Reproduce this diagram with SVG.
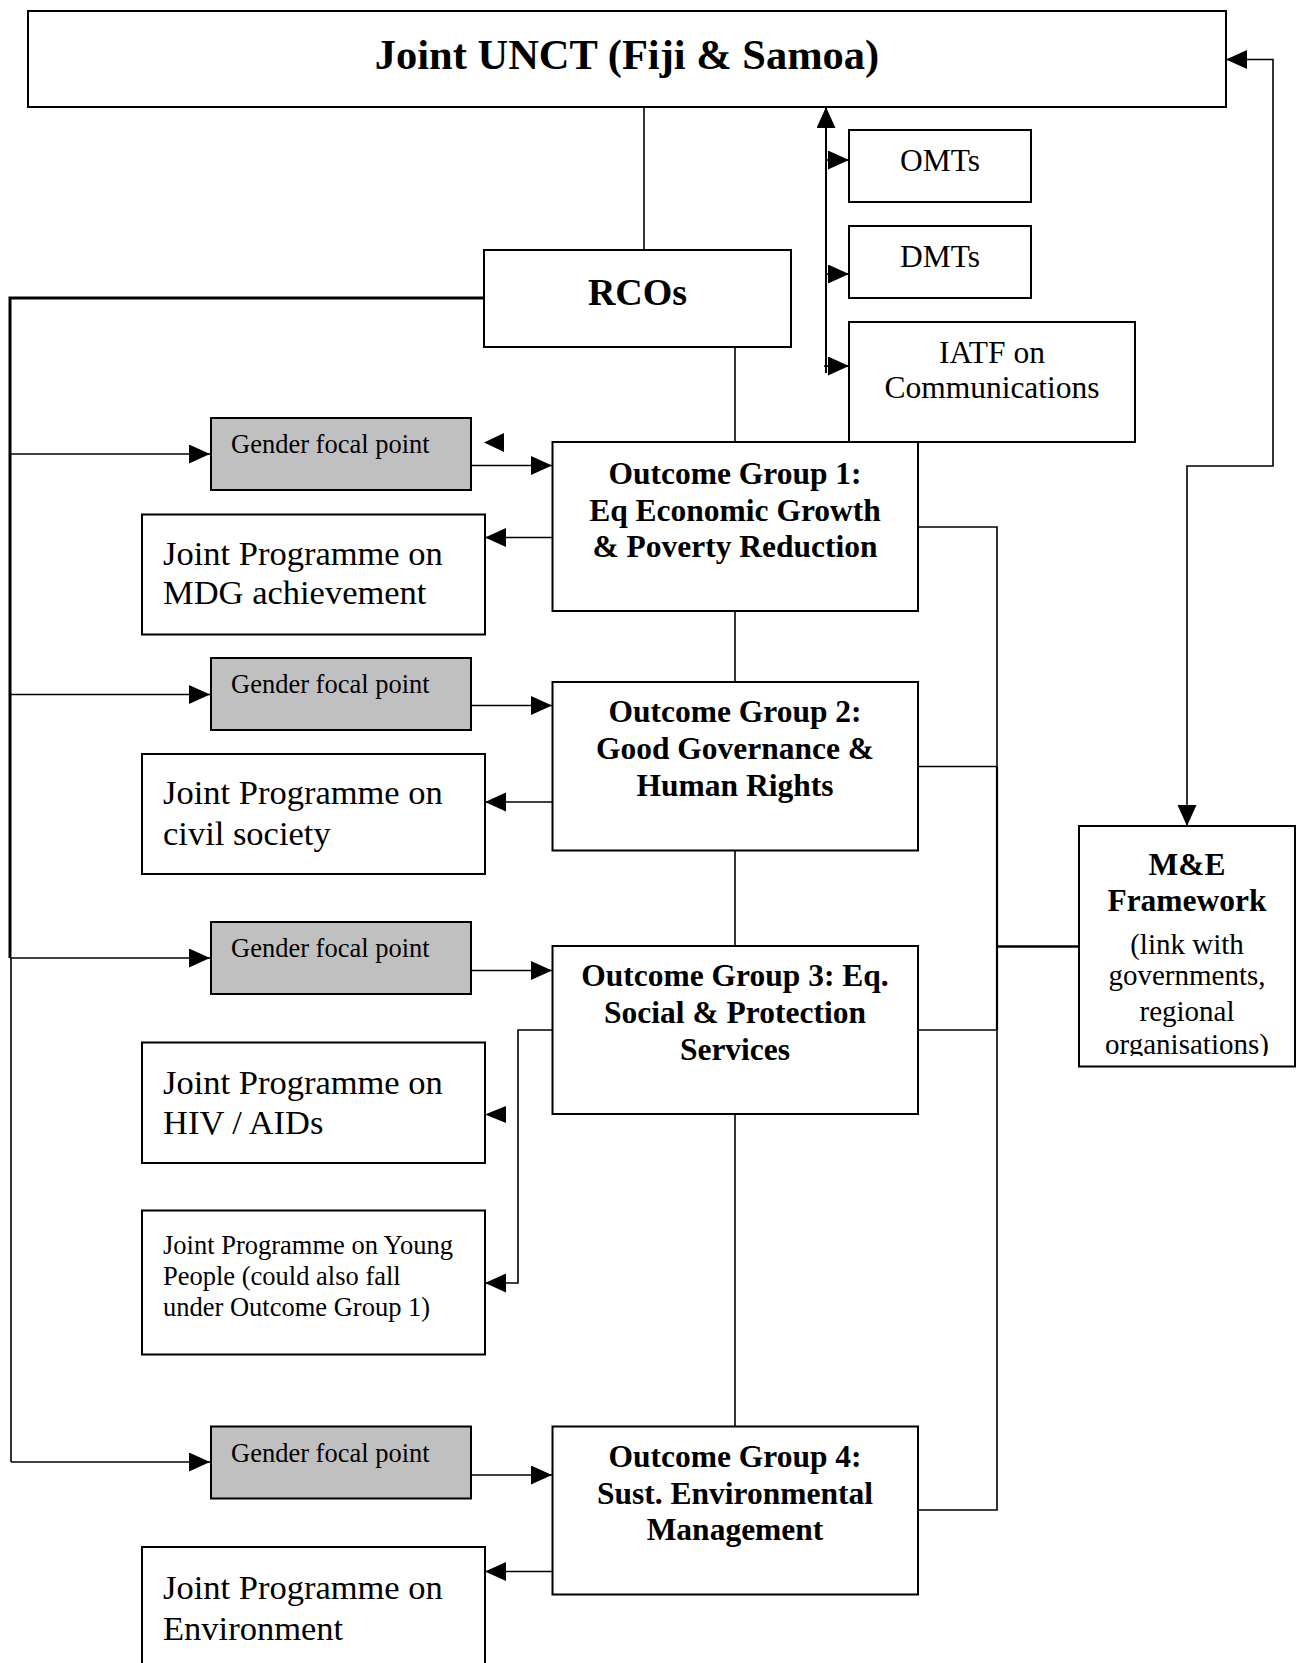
<svg xmlns="http://www.w3.org/2000/svg" width="1297" height="1663" viewBox="0 0 1297 1663">
<style>
.box{fill:#fff;stroke:#000;stroke-width:2}
.gray{fill:#c0c0c0;stroke:#000;stroke-width:2}
.ln{fill:none;stroke:#000;stroke-width:1.6}
.thick{fill:none;stroke:#000;stroke-width:3}
.t{font-family:"Liberation Serif","Times New Roman",serif;fill:#000}
.b{font-weight:bold}
.c{text-anchor:middle}
.og{font-size:31.5px}
.jp{font-size:34.5px}
.gf{font-size:26.5px}
</style>
<defs>
<marker id="ah" markerUnits="userSpaceOnUse" markerWidth="22" markerHeight="20" refX="21" refY="9.5" orient="auto-start-reverse">
<path d="M0,0 L21,9.5 L0,19 z" fill="#000"/>
</marker>
<clipPath id="meclip"><rect x="1079" y="826" width="216" height="230"/></clipPath>
</defs>

<g id="connectors">
<path class="ln" d="M644,107 V250"/>
<path class="ln" d="M735,347 V442"/>
<path class="ln" d="M735,611 V682"/>
<path class="ln" d="M735,850 V946"/>
<path class="ln" d="M735,1114 V1426"/>
<path class="thick" d="M484,298 H10 V958"/>
<path class="ln" d="M11,958 V1462"/>
<path class="ln" d="M10,454 H210" marker-end="url(#ah)"/>
<path class="ln" d="M10,694.5 H210" marker-end="url(#ah)"/>
<path class="ln" d="M10,958 H210" marker-end="url(#ah)"/>
<path class="ln" d="M11,1462 H210" marker-end="url(#ah)"/>
<path class="ln" d="M461,465.5 H552" marker-end="url(#ah)"/>
<path class="ln" d="M461,705.5 H552" marker-end="url(#ah)"/>
<path class="ln" d="M462,970.5 H552" marker-end="url(#ah)"/>
<path class="ln" d="M462,1475 H552" marker-end="url(#ah)"/>
<path class="ln" d="M552,537.5 H485" marker-end="url(#ah)"/>
<path class="ln" d="M552,802 H485" marker-end="url(#ah)"/>
<path class="ln" d="M552,1571.5 H485" marker-end="url(#ah)"/>
<path class="ln" d="M552,1030 H518 V1283 H485" marker-end="url(#ah)"/>
<polygon points="484,442.5 504,433 504,452" fill="#000"/>
<polygon points="485,1114.5 506,1106 506,1123" fill="#000"/>
<path class="ln" d="M918,527 H997 V1510 H918"/>
<path class="ln" d="M918,766.5 H997"/>
<path class="ln" d="M918,1030 H997"/>
<path class="ln" d="M997,766.5 V1030" style="stroke-width:2.2"/>
<path class="ln" d="M997,946.5 H1079" style="stroke-width:2.4"/>
<path class="ln" d="M826,373 V107" style="stroke-width:2" marker-end="url(#ah)"/>
<path class="ln" d="M826,160 H849" marker-end="url(#ah)"/>
<path class="ln" d="M826,274 H849" marker-end="url(#ah)"/>
<path class="ln" d="M824,366 H849" marker-end="url(#ah)"/>
<path class="ln" d="M1226,59.5 H1273 V466 H1187 V826" marker-start="url(#ah)" marker-end="url(#ah)"/>
</g>

<g id="unct">
<rect class="box" x="28" y="11" width="1198" height="96"/>
<text class="t b c" x="627" y="68.5" font-size="42.5">Joint UNCT (Fiji &amp; Samoa)</text>
</g>
<g id="rcos">
<rect class="box" x="484" y="250" width="307" height="97"/>
<text class="t b c" x="637.5" y="305" font-size="38">RCOs</text>
</g>
<g id="omts">
<rect class="box" x="849" y="130" width="182" height="72"/>
<text class="t c" x="940" y="171" font-size="31.5">OMTs</text>
</g>
<g id="dmts">
<rect class="box" x="849" y="226" width="182" height="72"/>
<text class="t c" x="940" y="267" font-size="31.5">DMTs</text>
</g>
<g id="iatf">
<rect class="box" x="849" y="322" width="286" height="120"/>
<text class="t c" x="992" y="363" font-size="31.5">IATF on</text>
<text class="t c" x="992" y="398" font-size="31.5">Communications</text>
</g>

<g id="gfp1">
<rect class="gray" x="211" y="418" width="260" height="72"/>
<text class="t gf" x="231" y="453">Gender focal point</text>
</g>
<g id="gfp2">
<rect class="gray" x="211" y="658" width="260" height="72"/>
<text class="t gf" x="231" y="693">Gender focal point</text>
</g>
<g id="gfp3">
<rect class="gray" x="211" y="922" width="260" height="72"/>
<text class="t gf" x="231" y="957">Gender focal point</text>
</g>
<g id="gfp4">
<rect class="gray" x="211" y="1426.5" width="260" height="72"/>
<text class="t gf" x="231" y="1461.5">Gender focal point</text>
</g>

<g id="og1">
<rect class="box" x="552.5" y="442" width="365.5" height="169"/>
<text class="t b c og" x="735" y="483.5">Outcome Group 1:</text>
<text class="t b c og" x="735" y="520.5">Eq Economic Growth</text>
<text class="t b c og" x="735" y="557">&amp; Poverty Reduction</text>
</g>
<g id="og2">
<rect class="box" x="552.5" y="682" width="365.5" height="168.5"/>
<text class="t b c og" x="735" y="722">Outcome Group 2:</text>
<text class="t b c og" x="735" y="759">Good Governance &amp;</text>
<text class="t b c og" x="735" y="796">Human Rights</text>
</g>
<g id="og3">
<rect class="box" x="552.5" y="946" width="365.5" height="168"/>
<text class="t b c og" x="735" y="986">Outcome Group 3: Eq.</text>
<text class="t b c og" x="735" y="1023">Social &amp; Protection</text>
<text class="t b c og" x="735" y="1060">Services</text>
</g>
<g id="og4">
<rect class="box" x="552.5" y="1426.5" width="365.5" height="168"/>
<text class="t b c og" x="735" y="1467">Outcome Group 4:</text>
<text class="t b c og" x="735" y="1503.5">Sust. Environmental</text>
<text class="t b c og" x="735" y="1540">Management</text>
</g>

<g id="jp-mdg">
<rect class="box" x="142" y="514.5" width="343" height="120"/>
<text class="t jp" x="163" y="565">Joint Programme on</text>
<text class="t jp" x="163" y="604">MDG achievement</text>
</g>
<g id="jp-civil">
<rect class="box" x="142" y="754" width="343" height="120"/>
<text class="t jp" x="163" y="804">Joint Programme on</text>
<text class="t jp" x="163" y="845">civil society</text>
</g>
<g id="jp-hiv">
<rect class="box" x="142" y="1042.5" width="343" height="120.5"/>
<text class="t jp" x="163" y="1093.5">Joint Programme on</text>
<text class="t jp" x="163" y="1133.5">HIV / AIDs</text>
</g>
<g id="jp-young">
<rect class="box" x="142" y="1210.5" width="343" height="144"/>
<text class="t gf" x="163" y="1254">Joint Programme on Young</text>
<text class="t gf" x="163" y="1284.5">People (could also fall</text>
<text class="t gf" x="163" y="1316">under Outcome Group 1)</text>
</g>
<g id="jp-env">
<rect class="box" x="142" y="1547" width="343" height="130"/>
<text class="t jp" x="163" y="1599">Joint Programme on</text>
<text class="t jp" x="163" y="1640">Environment</text>
</g>

<g id="me">
<rect class="box" x="1079" y="826" width="216" height="240.5"/>
<text class="t b c" x="1187" y="874.5" font-size="31.5">M&amp;E</text>
<text class="t b c" x="1187" y="911" font-size="31.5">Framework</text>
<g clip-path="url(#meclip)">
<text class="t c" x="1187" y="953.5" font-size="29">(link with</text>
<text class="t c" x="1187" y="985" font-size="29">governments,</text>
<text class="t c" x="1187" y="1020.5" font-size="29">regional</text>
<text class="t c" x="1187" y="1054" font-size="29">organisations)</text>
</g>
</g>
</svg>
